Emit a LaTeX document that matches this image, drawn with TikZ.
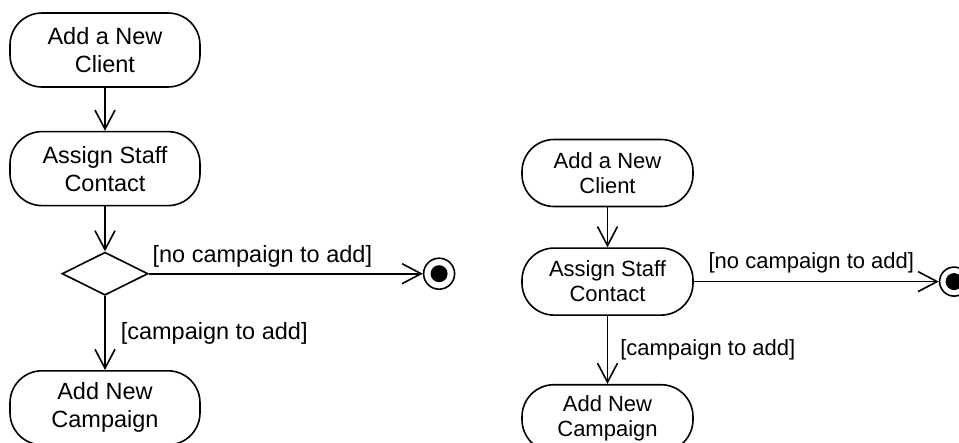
\documentclass[tikz,border=0pt]{standalone}
\usepackage{fontspec}
\setmainfont{Liberation Sans}
\usepackage{tikz}
\usetikzlibrary{positioning}
\usetikzlibrary{shapes.geometric}
\usetikzlibrary{arrows.meta}
\tikzstyle{activity}=[draw, rectangle, rounded corners=32pt, align=center, inner sep=0pt]
\tikzstyle{bigact}=[activity, minimum width=190pt, minimum height=74pt, font=\fontsize{23.5}{28}\selectfont]
\tikzstyle{smallact}=[activity, minimum width=171pt, minimum height=67pt, font=\fontsize{22}{25}\selectfont]
\tikzstyle{decision}=[draw, diamond, minimum width=86pt, minimum height=43pt, inner sep=0pt]
\tikzstyle{finalnode}=[draw, circle, minimum size=31pt, inner sep=0pt, path picture={\fill (path picture bounding box.center) circle (8.5pt);}]
\tikzstyle{flow}=[-{Straight Barb[length=19pt, width=20pt]}]
\tikzstyle{guard}=[inner sep=3pt]

\begin{document}
\begin{tikzpicture}[x=1pt, y=-1pt, line width=1.6pt]
    \useasboundingbox (0,0) rectangle (959,442);
    % with decision node
    \node[bigact] (a1) at (105,50) {Add a New\\Client};
    \node[bigact, below=43pt of a1] (a2) {Assign Staff\\Contact};
    \node[decision, below=45pt of a2] (d1) {};
    \node[bigact, below=74pt of d1] (a3) {Add New\\Campaign};
    \node[finalnode, right=274pt of d1] (f1) {};
    \draw[flow] (a1) -- (a2);
    \draw[flow] (a2) -- (d1);
    \draw[flow] (d1) -- node[guard, pos=0, anchor=south west, yshift=3pt,
    font=\fontsize{23.5}{28}\selectfont] {[no campaign to add]} (f1);
    \draw[flow] (d1) -- node[guard, midway, anchor=west, xshift=12pt,
    font=\fontsize{23.5}{28}\selectfont] {[campaign to add]} (a3);
    % without decision node
    \node[smallact] (b1) at (607.5,173) {Add a New\\Client};
    \node[smallact, below=40pt of b1] (b2) {Assign Staff\\Contact};
    \node[smallact, below=68pt of b2] (b3) {Add New\\Campaign};
    \node[finalnode, minimum size=29pt, right=245pt of b2] (f2) {};
    \draw[flow] (b1) -- (b2);
    \draw[flow] (b2) -- node[guard, pos=0, anchor=south west, xshift=11pt, yshift=5pt,
    font=\fontsize{22}{25}\selectfont] {[no campaign to add]} (f2);
    \draw[flow] (b2) -- node[guard, midway, anchor=west, xshift=9pt,
    font=\fontsize{22}{25}\selectfont] {[campaign to add]} (b3);
\end{tikzpicture}
\end{document}
